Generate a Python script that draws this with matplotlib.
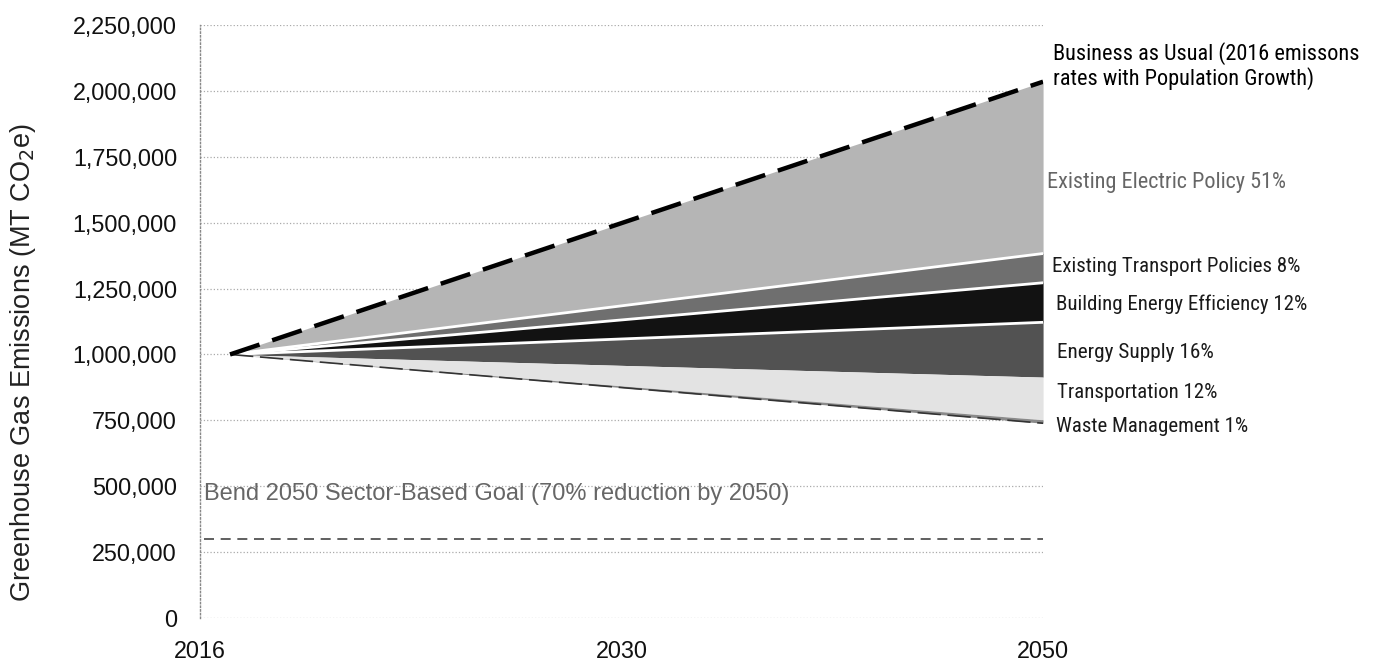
import numpy as np
import matplotlib
matplotlib.use("Agg")
import matplotlib.pyplot as plt

# Axis categories as printed under the chart
label_years = [2016, 2030, 2050]

# Wedge start and end years
years = [2017, 2050]

# Emission levels (MT CO2e) at start and end; each wedge lies between two neighbours
bau = [1000000, 2035000]
after_electric = [1000000, 1383000]
after_transport_policy = [1000000, 1272000]
after_building = [1000000, 1122000]
after_energy_supply = [1000000, 914000]
after_transportation = [1000000, 752000]
after_waste = [1000000, 739000]

goal_value = 300000
goal_years = [2016.15, 2050]

wedge_names = [
	"Existing Electric Policy 51%",
	"Existing Transport Policies 8%",
	"Building Energy Efficiency 12%",
	"Energy Supply 16%",
	"Transportation 12%",
	"Waste Management 1%",
]
wedge_label_y = [1654000, 1335000, 1191000, 1009000, 854000, 725000]
bau_label = "Business as Usual (2016 emissons\nrates with Population Growth)"
bau_label_y = 2094000
goal_label = "Bend 2050 Sector-Based Goal (70% reduction by 2050)"
goal_label_y = 470000

yticks = np.arange(0, 2250001, 250000)

def pos(yr):
	# the printed year labels are evenly spaced, like a category axis
	return np.interp(yr, label_years, np.arange(len(label_years)))

plt.rcParams["font.family"] = ["Liberation Sans", "DejaVu Sans"]
narrow = ["Liberation Sans Narrow", "Arial Narrow", "Roboto Condensed",
	"Noto Sans Condensed", "Open Sans Condensed", "DejaVu Sans Condensed",
	"Liberation Sans"]

fig = plt.figure(figsize=(13.77, 6.64), dpi=100)
ax = fig.add_axes([0.1452, 0.0693, 0.7575 - 0.1452, 0.9623 - 0.0693])

x = pos(years)
bounds = [bau, after_electric, after_transport_policy, after_building,
	after_energy_supply, after_transportation, after_waste]
colors = ["#b5b5b5", "#6f6f6f", "#121212", "#525252", "#e3e3e3", "#8a8a8a"]
for i, c in enumerate(colors):
	ax.fill_between(x, bounds[i + 1], bounds[i], color=c, lw=0, zorder=2)

# white separators between the dark wedges
for b in [after_electric, after_transport_policy, after_building]:
	ax.plot(x, b, color="white", lw=2.0, zorder=3, solid_capstyle="butt")
ax.plot(x, after_waste, color="#333333", lw=1.2, dashes=(14, 4), zorder=3)

ax.plot(x, bau, color="black", lw=3.2, dashes=(7, 3), zorder=4)

gx = pos(goal_years)
ax.plot(gx, [goal_value, goal_value], color="#444444", lw=1.2, dashes=(6, 4), zorder=3)
ax.text(pos(2016.15), goal_label_y, goal_label, fontsize=17, color="#666666",
	va="center", ha="left", zorder=5)

# labels right of the plot
ax.text(2.024, bau_label_y, bau_label, fontsize=16, family=narrow,
	fontstretch="condensed", color="black", va="center", ha="left",
	linespacing=1.15, clip_on=False)
label_x = [2.01, 2.022, 2.03, 2.034, 2.034, 2.03]
label_size = [16, 15, 15, 15.3, 15, 15]
label_c = ["#666666", "#1a1a1a", "#1a1a1a", "#1a1a1a", "#1a1a1a", "#1a1a1a"]
for name, yy, xx, fs, cc in zip(wedge_names, wedge_label_y, label_x, label_size, label_c):
	ax.text(xx, yy, name, fontsize=fs, family=narrow, fontstretch="condensed",
		color=cc, va="center", ha="left", clip_on=False)

ax.set_xlim(0, 2)
ax.set_ylim(0, 2250000)
ax.set_xticks(np.arange(len(label_years)))
ax.set_xticklabels([str(y) for y in label_years])
ax.set_yticks(yticks)
ax.set_yticklabels([f"{v:,}" for v in yticks])
ax.tick_params(axis="both", length=0, labelsize=16.8, colors="#111111")
ax.tick_params(axis="y", pad=16.5)
ax.tick_params(axis="x", pad=16)

for s in ["top", "right", "bottom"]:
	ax.spines[s].set_visible(False)
ax.spines["left"].set_linestyle(":")
ax.spines["left"].set_color("#888888")
ax.spines["left"].set_linewidth(1.0)

ax.yaxis.grid(True, linestyle=":", color="#aaaaaa", lw=0.9)
ax.set_axisbelow(True)

fig.text(23 / 1377, 1 - 362 / 664, "Greenhouse Gas Emissions (MT CO$_2$e)",
	rotation=90, fontsize=19.5, va="center", ha="center", color="#222222")

fig.savefig("out.png", dpi=100)
